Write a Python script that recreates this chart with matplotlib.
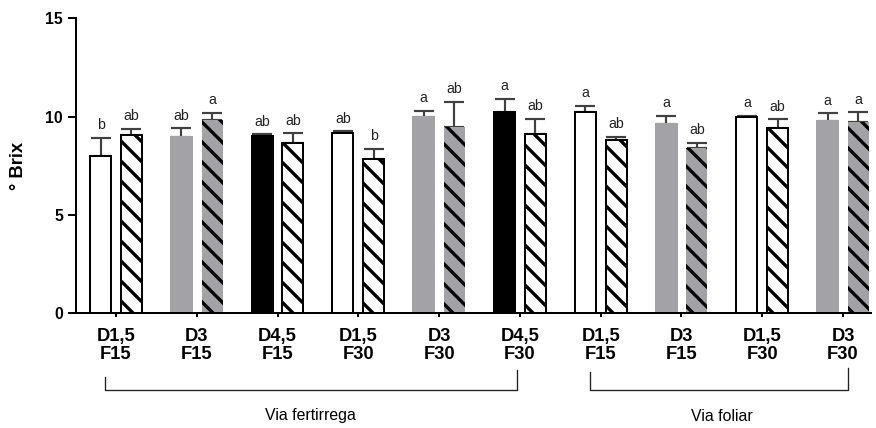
import numpy as np
import matplotlib
matplotlib.use("Agg")
import matplotlib.pyplot as plt
from matplotlib import font_manager

# treatments: dose (D) and frequency (F)
groups = ["D1,5\nF15", "D3\nF15", "D4,5\nF15", "D1,5\nF30", "D3\nF30",
          "D4,5\nF30", "D1,5\nF15", "D3\nF15", "D1,5\nF30", "D3\nF30"]

plain_mean = [8.00, 8.95, 9.01, 9.18, 10.00, 10.22, 10.22, 9.60, 9.96, 9.76]
plain_err = [0.93, 0.45, 0.09, 0.07, 0.28, 0.69, 0.32, 0.45, 0.09, 0.41]
hatch_mean = [9.07, 9.83, 8.64, 7.83, 9.49, 9.10, 8.80, 8.39, 9.42, 9.74]
hatch_err = [0.31, 0.37, 0.51, 0.54, 1.27, 0.80, 0.18, 0.28, 0.44, 0.48]

plain_letters = ["b", "ab", "ab", "ab", "a", "a", "a", "a", "a", "a"]
hatch_letters = ["ab", "a", "ab", "b", "ab", "ab", "ab", "ab", "ab", "a"]

GRAY = "#a3a3a7"
plain_color = ["white", GRAY, "black", "white", GRAY, "black", "white", GRAY, "white", GRAY]
hatch_color = ["white", GRAY, "white", "white", GRAY, "white", "white", GRAY, "white", GRAY]

plt.rcParams["font.family"] = ["Liberation Sans", "DejaVu Sans"]
plt.rcParams["hatch.linewidth"] = 2.0

installed = {f.name for f in font_manager.fontManager.ttflist}
narrow = "Liberation Sans Narrow" if "Liberation Sans Narrow" in installed else "Liberation Sans"

DPI = 120
fig = plt.figure(figsize=(876 / DPI, 428 / DPI), dpi=DPI)
ax = fig.add_axes([76 / 876, (428 - 313.3) / 428, (870.7 - 76) / 876, 295 / 428])

x = np.arange(len(groups))
w = 0.26
off = 0.19

for i in range(len(groups)):
    c = plain_color[i]
    ec = GRAY if c == GRAY else "black"
    ax.bar(x[i] - off, plain_mean[i], w, color=c, edgecolor=ec, linewidth=1.2, zorder=2)
    hc = hatch_color[i]
    lw = 0 if hc == GRAY else 1.2
    ax.bar(x[i] + off, hatch_mean[i], w, color=hc, edgecolor="black", linewidth=lw,
           hatch="\\\\", zorder=2)

ekw = dict(fmt="none", ecolor="#404040", elinewidth=1.3, capsize=6, capthick=1.3, zorder=1)
ax.errorbar(x - off, plain_mean, yerr=[np.zeros(len(x)), plain_err], **ekw)
ax.errorbar(x + off, hatch_mean, yerr=[np.zeros(len(x)), hatch_err], **ekw)

# significance letters
for i in range(len(groups)):
    ax.annotate(plain_letters[i], (x[i] - off, plain_mean[i] + plain_err[i]),
                xytext=(0, 3.4), textcoords="offset points", ha="center", va="bottom",
                fontsize=8.5, color="#222222")
    ax.annotate(hatch_letters[i], (x[i] + off, hatch_mean[i] + hatch_err[i]),
                xytext=(0, 3.4), textcoords="offset points", ha="center", va="bottom",
                fontsize=8.5, color="#222222")

ax.set_xlim(-0.495, 9.343)
ax.set_ylim(0, 15)
ax.set_yticks([0, 5, 10, 15])
ax.set_xticks(x)
ax.set_xticklabels(groups, fontweight="bold", fontsize=11, linespacing=1.05, family=narrow)
for lab in ax.get_yticklabels():
    lab.set_fontweight("bold")
    lab.set_fontsize(9.5)

ax.tick_params(axis="y", length=4.8, width=1.2, pad=3)
ax.tick_params(axis="x", length=2.4, width=1.2, pad=6.5)
for s in ["top", "right"]:
    ax.spines[s].set_visible(False)
for s in ["left", "bottom"]:
    ax.spines[s].set_linewidth(1.2)

ax.set_ylabel("° Brix", fontsize=11, fontweight="bold")
ax.yaxis.set_label_coords(-0.062, 0.5)

# application route brackets
tr = ax.get_xaxis_transform()
ax.plot([-0.136, -0.136, 4.967, 4.967], [-0.216, -0.26, -0.26, -0.192],
        transform=tr, clip_on=False, color="#222222", lw=0.8)
ax.plot([5.868, 5.868, 9.066, 9.066], [-0.199, -0.26, -0.26, -0.185],
        transform=tr, clip_on=False, color="#222222", lw=0.8)
ax.text(2.41, -0.348, "Via fertirrega", transform=tr, ha="center", va="center",
        fontsize=9.5, family=narrow)
ax.text(7.5, -0.35, "Via foliar", transform=tr, ha="center", va="center",
        fontsize=9.5, family=narrow)

fig.savefig("out.png", dpi=DPI)
